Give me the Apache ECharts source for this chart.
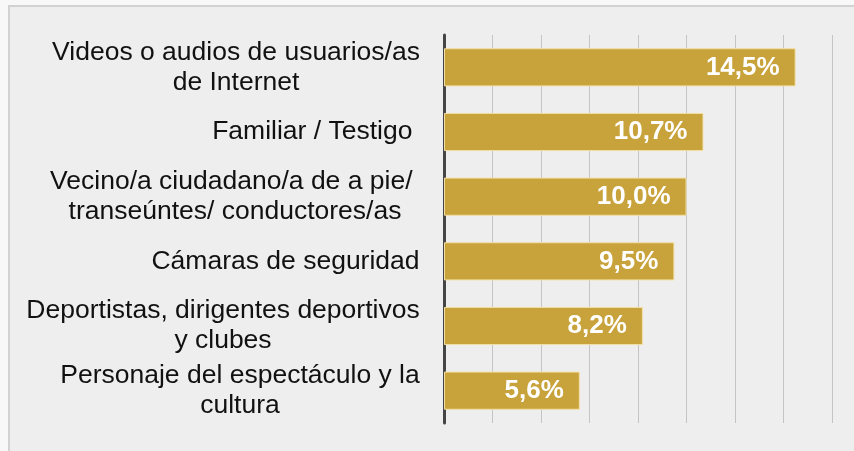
<!DOCTYPE html>
<html>
<head>
<meta charset="utf-8">
<script src="https://cdn.jsdelivr.net/npm/echarts@6/dist/echarts.min.js"></script>
<style>
    html, body { margin: 0; padding: 0; background: #f8f8f8; }
    #frame {
        position: absolute; left: 8px; top: 5px; width: 900px; height: 500px;
        background: #eeeeee; border-left: 2px solid #d2d2d2; border-top: 2px solid #d2d2d2;
    }
    #chart { position: absolute; left: 0; top: 0; width: 854px; height: 451px; }
</style>
</head>
<body>
<div id="frame"></div>
<div id="chart"></div>
<script>
// categorías (de arriba hacia abajo)
var categories = [
    'Videos o audios de usuarios/as\nde Internet',
    'Familiar / Testigo ',
    'Vecino/a ciudadano/a de a pie/ \ntranseúntes/ conductores/as',
    'Cámaras de seguridad',
    'Deportistas, dirigentes deportivos\ny clubes',
    'Personaje del espectáculo y la\ncultura'
];
// porcentajes
var values = [14.5, 10.7, 10.0, 9.5, 8.2, 5.6];

var labelFont = 26.5;
var fontName = 'Liberation Sans';

window.onload = function () {
    initChart();
}

// ancho de la línea más larga de cada etiqueta, para centrar las líneas
function buildRich() {
    var ctx = document.createElement('canvas').getContext('2d');
    ctx.font = labelFont + 'px "' + fontName + '"';
    var rich = {};
    categories.forEach(function (c, i) {
        var w = 0;
        c.split('\n').forEach(function (line) {
            w = Math.max(w, ctx.measureText(line).width);
        });
        rich['c' + i] = {
            width: Math.ceil(w),
            align: 'center',
            fontFamily: fontName,
            fontSize: labelFont,
            lineHeight: 30,
            color: '#111111'
        };
    });
    return rich;
}

function initChart() {
    var chart = echarts.init(document.getElementById('chart'));
    chart.setOption({
        animation: false,
        backgroundColor: 'transparent',
        grid: { left: 444, right: 22, top: 35, bottom: 28, containLabel: false },
        xAxis: {
            type: 'value',
            min: 0,
            max: 16,
            interval: 2,
            axisLabel: { show: false },
            axisLine: { show: false },
            axisTick: { show: false },
            splitLine: { show: true, lineStyle: { color: '#c4c4c4', width: 1 } }
        },
        yAxis: {
            type: 'category',
            inverse: true,
            data: categories,
            axisTick: { show: false },
            axisLine: { show: true, lineStyle: { color: '#454545', width: 3 } },
            axisLabel: {
                margin: 24,
                align: 'right',
                formatter: function (val, idx) {
                    return val.split('\n').map(function (line) {
                        return '{c' + idx + '|' + line + '}';
                    }).join('\n');
                },
                rich: buildRich()
            }
        },
        series: [{
            type: 'bar',
            data: values,
            barWidth: '59%',
            itemStyle: { color: '#c8a23a', borderColor: '#f3dfa6', borderWidth: 1 },
            label: {
                show: true,
                position: 'insideRight',
                distance: 16,
                color: '#ffffff',
                fontFamily: fontName,
                fontWeight: 'bold',
                fontSize: 26,
                formatter: function (p) {
                    return p.value.toFixed(1).replace('.', ',') + '%';
                }
            }
        }]
    });
}
</script>
</body>
</html>
